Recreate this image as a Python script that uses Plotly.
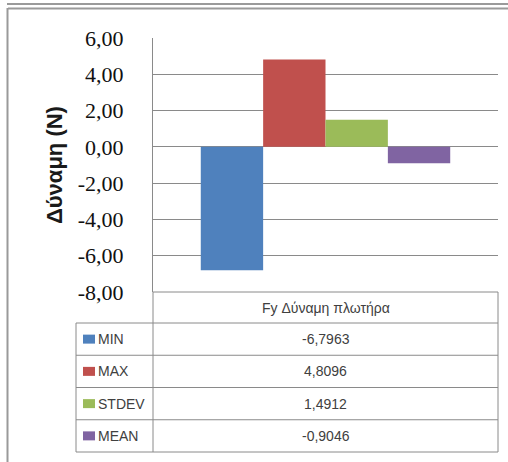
import plotly.graph_objects as go

# ---- data ----
category = ["Fy Δύναμη πλωτήρα"]
series_names = ["MIN", "MAX", "STDEV", "MEAN"]
series_values = [-6.7963, 4.8096, 1.4912, -0.9046]
value_labels = ["-6,7963", "4,8096", "1,4912", "-0,9046"]
series_colors = ["#4F81BD", "#C0504D", "#9BBB59", "#8064A2"]
y_ticks = [-8, -6, -4, -2, 0, 2, 4, 6]
y_tick_labels = ["-8,00", "-6,00", "-4,00", "-2,00", "0,00", "2,00", "4,00", "6,00"]
y_title = "Δύναμη (N)"

W, H = 508, 462
# plot area in pixels
PL, PR, PT, PB = 153, 498, 38, 292
def px(x):
    return x / W
def py(y):
    return (H - y) / H

fig = go.Figure()
for name, val, col in zip(series_names, series_values, series_colors):
    fig.add_trace(go.Bar(x=category, y=[val], name=name, marker=dict(color=col, line=dict(width=0)),
                         showlegend=False, hoverinfo="skip"))

GRID = "#8a8a8a"
fig.update_layout(
    template="none",
    width=W, height=H,
    margin=dict(l=0, r=0, t=0, b=0, autoexpand=False),
    paper_bgcolor="white", plot_bgcolor="white",
    barmode="group", bargap=0.277, bargroupgap=0,
    xaxis=dict(domain=[px(PL), px(PR)], showticklabels=False, showgrid=False, automargin=False,
               zeroline=False, showline=False, ticks=""),
    yaxis=dict(domain=[py(PB), py(PT)], range=[-8, 6], tickvals=y_ticks, ticktext=y_tick_labels,
               automargin=False,
               showgrid=True, gridcolor=GRID, gridwidth=1, zeroline=True, zerolinecolor=GRID,
               zerolinewidth=1, showline=True, linecolor=GRID, linewidth=1,
               ticks="outside", ticklen=24, tickcolor="rgba(0,0,0,0)",
               tickfont=dict(family="Liberation Serif, Times New Roman, serif", size=22, color="#111111")),
    font=dict(family="Liberation Sans"),
)

shapes = []
def line(x0, y0, x1, y1, color=GRID, width=1):
    shapes.append(dict(type="line", xref="paper", yref="paper", x0=px(x0), y0=py(y0),
                       x1=px(x1), y1=py(y1), line=dict(color=color, width=width)))

# outer frame lines
FRAME = "#9a9a9a"
line(7, 4, W, 4, FRAME, 2)
line(8, 8.5, W, 8.5, FRAME, 2)
line(7.5, 8, 7.5, H, FRAME, 2)

# data table
header_bottom = 323
row_h = (452 - header_bottom) / len(series_names)
TL = 76
line(PL, PB, PL, 452)
line(PR, PB, PR, 452)
line(PL, PB, PR, PB)
line(TL, header_bottom, PR, header_bottom)
line(TL, header_bottom, TL, 452)
for i in range(len(series_names)):
    yb = header_bottom + (i + 1) * row_h
    line(TL, yb, PR, yb)

annotations = []
TXT = "#404040"
annotations.append(dict(text=category[0], xref="paper", yref="paper", x=px((PL + PR) / 2),
                        y=py((PB + header_bottom) / 2), showarrow=False, xanchor="center",
                        yanchor="middle", font=dict(size=14, color=TXT, family="Liberation Sans")))
for i, (name, lab, col) in enumerate(zip(series_names, value_labels, series_colors)):
    yc = header_bottom + (i + 0.5) * row_h
    shapes.append(dict(type="rect", xref="paper", yref="paper", x0=px(83), x1=px(95),
                       y0=py(yc - 4.5), y1=py(yc + 4.5), fillcolor=col, line=dict(width=0)))
    annotations.append(dict(text=name, xref="paper", yref="paper", x=px(96), y=py(yc),
                            showarrow=False, xanchor="left", yanchor="middle",
                            font=dict(size=14, color=TXT, family="Liberation Sans")))
    annotations.append(dict(text=lab, xref="paper", yref="paper", x=px((PL + PR) / 2), y=py(yc),
                            showarrow=False, xanchor="center", yanchor="middle",
                            font=dict(size=14, color=TXT, family="Liberation Sans")))

annotations.append(dict(text="<b>" + y_title + "</b>", xref="paper", yref="paper", x=px(55), y=py(165),
                        showarrow=False, textangle=-90, xanchor="center", yanchor="middle",
                        font=dict(size=22, color="#1a1a1a", family="Liberation Sans")))

fig.update_layout(shapes=shapes, annotations=annotations)
fig.write_html("out.html", config={"displayModeBar": False},
               post_script="document.body.style.margin='0';document.body.style.overflow='hidden';")
